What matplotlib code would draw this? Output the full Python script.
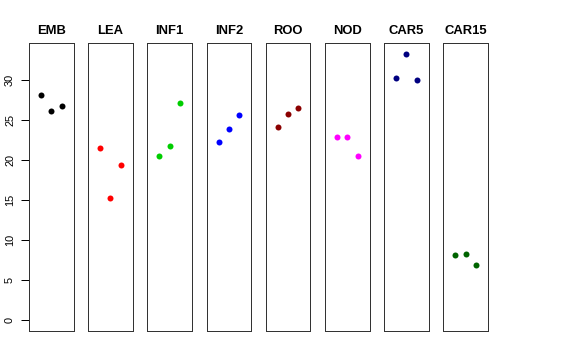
import matplotlib
matplotlib.use("Agg")
import matplotlib.pyplot as plt

categories = ["EMB", "LEA", "INF1", "INF2", "ROO", "NOD", "CAR5", "CAR15"]
colors = ["black", "red", "#00CD00", "blue", "#8B0000", "magenta", "#000080", "#006400"]
values = {
    "EMB":   [28.2, 26.1, 26.8],
    "LEA":   [21.5, 15.3, 19.4],
    "INF1":  [20.5, 21.8, 27.2],
    "INF2":  [22.3, 23.9, 25.7],
    "ROO":   [24.2, 25.8, 26.5],
    "NOD":   [22.95, 22.9, 20.5],
    "CAR5":  [30.3, 33.3, 30.0],
    "CAR15": [8.1, 8.25, 6.95],
}
reps = [1, 2, 3]
yticks = [0, 5, 10, 15, 20, 25, 30]

plt.rcParams['font.family'] = ['Liberation Sans', 'DejaVu Sans']

W, H = 576, 360
fig = plt.figure(figsize=(W / 72, H / 72), dpi=72)

ymax = max(max(v) for v in values.values())
pad = ymax * 0.04

left0 = 29
pitch = 59.2
width = 44.5
top = 43
bottom = 331

for i, cat in enumerate(categories):
    ax = fig.add_axes([(left0 + i * pitch) / W, (H - bottom) / H,
                       width / W, (bottom - top) / H])
    ax.plot(reps, values[cat], 'o', color=colors[i], markersize=6, markeredgewidth=0)
    ax.set_xlim(-0.16, 4.16)
    ax.set_ylim(-pad, ymax + pad)
    ax.set_xticks([])
    ax.set_title(cat, fontsize=13, fontweight='bold', pad=9)
    for s in ax.spines.values():
        s.set_linewidth(1.0)
        s.set_color('#333333')
    if i == 0:
        ax.set_yticks(yticks)
        ax.set_yticklabels([str(t) for t in yticks], rotation=90, va='center', fontsize=11)
        ax.tick_params(axis='y', length=8, width=1, pad=6, colors='black')
    else:
        ax.set_yticks([])

fig.savefig("out.png", dpi=72)
